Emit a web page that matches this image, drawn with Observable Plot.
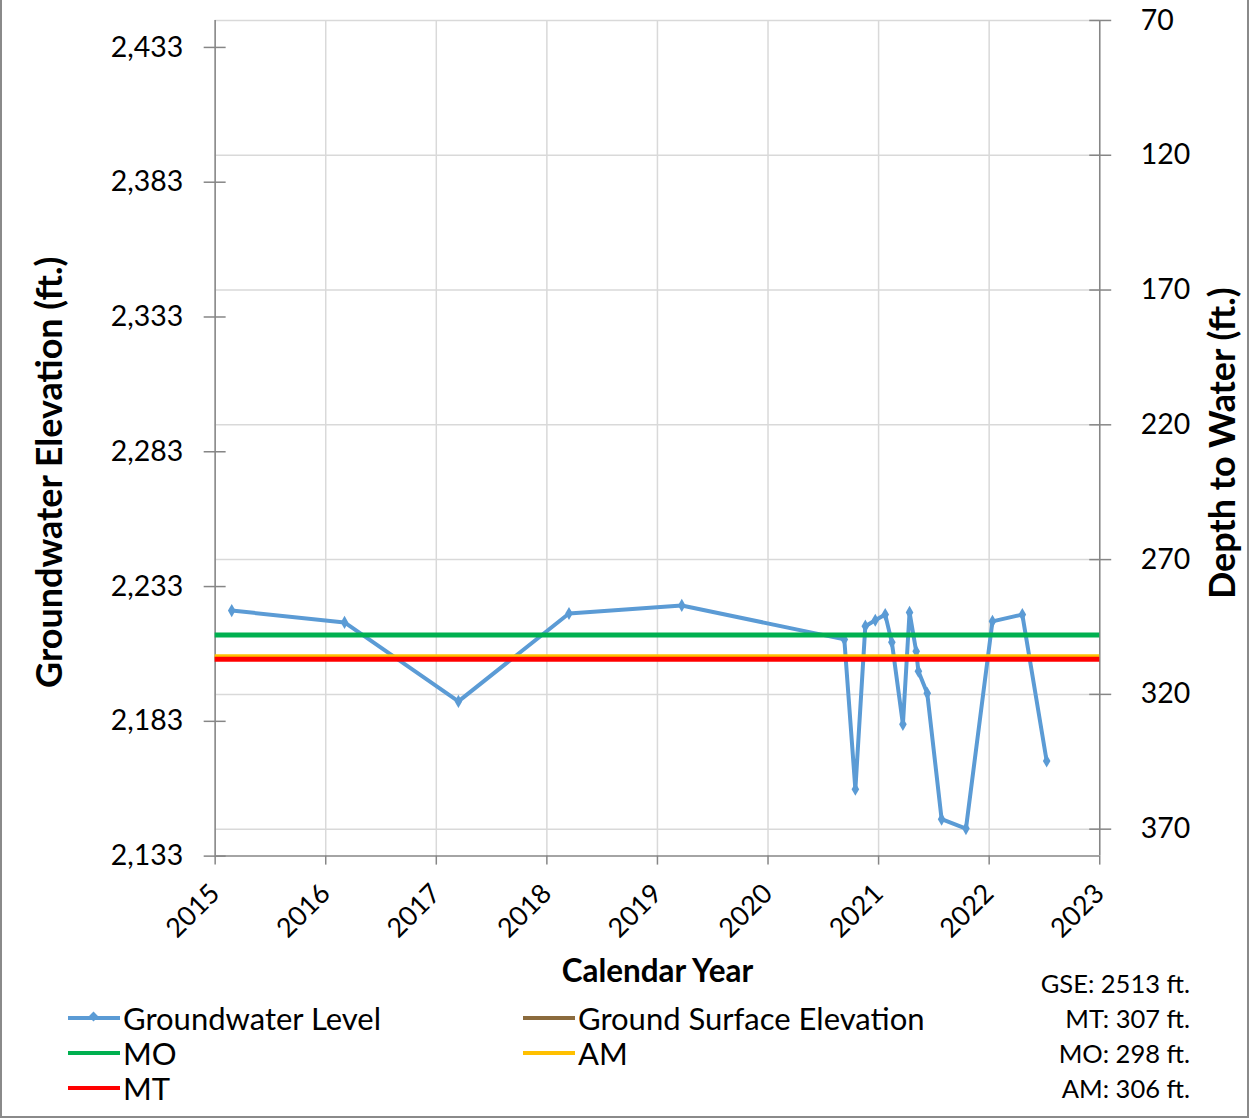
<!DOCTYPE html>
<html>
<head>
<meta charset="utf-8">
<script src="https://cdn.jsdelivr.net/npm/d3@7"></script>
<script src="https://cdn.jsdelivr.net/npm/@observablehq/plot@0.6"></script>
<style>
  html, body { margin: 0; padding: 0; background: #fff; }
  #wrap { position: relative; width: 1249px; height: 1118px; box-sizing: border-box;
          border-left: 2px solid #8a8a8a; border-right: 2px solid #8a8a8a; border-bottom: 2px solid #8a8a8a;
          font-family: Lato, "Open Sans", sans-serif; color: #000; overflow: hidden; }
  #chart { position: absolute; left: -2px; top: 0; }
  .leg { position: absolute; display: flex; align-items: center; font-size: 31px; line-height: 1; white-space: nowrap; }
  .leg .sw { position: relative; width: 52px; height: 4px; margin-right: 3px; }
  .leg .mk { position: absolute; left: 22px; top: -3px; width: 7px; height: 7px; transform: rotate(45deg); }
  #info { position: absolute; right: 57px; top: 966px; text-align: right; font-size: 25.5px; line-height: 35px; }
</style>
</head>
<body>
<div id="wrap">
  <div id="chart"></div>
  <div id="legend"></div>
  <div id="info"></div>
</div>
<script>
// ---- data ----
const gse = 2513;                       // ground surface elevation (ft)
const sampleYears = [2015.15, 2016.17, 2017.20, 2018.20, 2019.22, 2020.69, 2020.79, 2020.88, 2020.97, 2021.06, 2021.12,
                     2021.22, 2021.28, 2021.34, 2021.36, 2021.44, 2021.57, 2021.79, 2022.03, 2022.30, 2022.52];
const sampleElev  = [2224.1, 2219.7, 2190.4, 2223.0, 2226.0, 2213.4, 2157.8, 2218.3, 2220.5, 2222.6, 2212.3,
                     2181.9, 2223.4, 2209.0, 2201.6, 2193.4, 2146.7, 2143.2, 2220.1, 2222.6, 2168.3];
const thresholdNames  = ["MO", "AM", "MT"];
const thresholdDepths = [298, 306, 307];
const thresholdColors = ["#00b050", "#ffc000", "#ff0000"];
const yearTicks  = [2015, 2016, 2017, 2018, 2019, 2020, 2021, 2022, 2023];
const elevTicks  = [2133, 2183, 2233, 2283, 2333, 2383, 2433];
const depthTicks = [70, 120, 170, 220, 270, 320, 370];
const legendNames  = ["Groundwater Level", "Ground Surface Elevation", "MO", "AM", "MT"];
const legendColors = ["#5b9bd5", "#8b6b3d", "#00b050", "#ffc000", "#ff0000"];
const infoLines = ["GSE: 2513 ft.", "MT: 307 ft.", "MO: 298 ft.", "AM: 306 ft."];

const samples = sampleYears.map((t, i) => ({t, elev: sampleElev[i]}));
const thresholds = thresholdNames.map((n, i) => ({name: n, elev: gse - thresholdDepths[i], color: thresholdColors[i]}));
// draw order: AM under MT, MO
const drawOrder = ["AM", "MT", "MO"].map(n => thresholds.find(d => d.name === n));

const axisGray = "#868686";
const gridGray = "#d9d9d9";

const chart = Plot.plot({
  width: 1249,
  height: 1000,
  marginLeft: 215,
  marginRight: 148,
  marginTop: 20,
  marginBottom: 143,
  style: {fontFamily: "Lato, 'Open Sans', sans-serif", color: "#000", background: "transparent"},
  x: {type: "linear", domain: [2015, 2023]},
  y: {type: "linear", domain: [2133, 2443]},
  marks: [
    Plot.gridX(yearTicks, {stroke: gridGray, strokeOpacity: 1, strokeWidth: 1.5}),
    Plot.gridY(depthTicks.map(d => gse - d), {stroke: gridGray, strokeOpacity: 1, strokeWidth: 1.5}),
    Plot.ruleX([2015, 2023], {stroke: axisGray, strokeWidth: 1.5}),
    Plot.ruleY([2133], {stroke: axisGray, strokeWidth: 1.5}),
    // left axis
    Plot.axisY(elevTicks, {anchor: "left", tickSize: 22, dx: 11, tickPadding: 21, fontSize: 28.5,
      stroke: axisGray, strokeWidth: 1.5, label: null, tickFormat: d3.format(",")}),
    // right axis (depth to water)
    Plot.axisY(depthTicks.map(d => gse - d), {anchor: "right", tickSize: 22, dx: -11, tickPadding: 30, fontSize: 28.5,
      stroke: axisGray, strokeWidth: 1.5, label: null, tickFormat: d => String(gse - d)}),
    // bottom axis
    Plot.axisX(yearTicks, {anchor: "bottom", tickSize: 9, tickPadding: 24, tickRotate: -45, fontSize: 27,
      stroke: axisGray, strokeWidth: 1.5, label: null, tickFormat: d => String(d)}),
    // groundwater level
    Plot.line(samples, {x: "t", y: "elev", stroke: "#5b9bd5", strokeWidth: 4, strokeLinejoin: "round"}),
    Plot.dot(samples, {x: "t", y: "elev", symbol: "diamond", r: 4, fill: "#5b9bd5", stroke: "none"}),
    // thresholds
    Plot.ruleY(drawOrder, {y: "elev", stroke: "color", strokeWidth: 5}),
    // titles
    Plot.text(["Groundwater Elevation (ft.)"], {frameAnchor: "left", textAnchor: "middle", rotate: -90, dx: -165, dy: 34,
      fontSize: 36, fontWeight: "bold", fill: "#000"}),
    Plot.text(["Depth to Water (ft.)"], {frameAnchor: "right", textAnchor: "middle", rotate: -90, dx: 124, dy: 5,
      fontSize: 36, fontWeight: "bold", fill: "#000"}),
    Plot.text(["Calendar Year"], {frameAnchor: "bottom", dy: 116, lineAnchor: "middle",
      fontSize: 31.5, fontWeight: "bold", fill: "#000"})
  ]
});
chart.style.overflow = "visible";
document.getElementById("chart").appendChild(chart);

// ---- legend (HTML) ----
const legendPos = {
  "Groundwater Level": [66, 1018], "Ground Surface Elevation": [521, 1018],
  "MO": [66, 1053], "AM": [521, 1053], "MT": [66, 1088]
};
const legend = document.getElementById("legend");
legendNames.forEach((name, i) => {
  const [lx, ly] = legendPos[name];
  const item = document.createElement("div");
  item.className = "leg";
  item.style.left = lx + "px";
  item.style.top = (ly - 16) + "px";
  item.style.height = "32px";
  const sw = document.createElement("div");
  sw.className = "sw";
  sw.style.background = legendColors[i];
  if (name === "Groundwater Level") {
    const mk = document.createElement("div");
    mk.className = "mk";
    mk.style.background = legendColors[i];
    sw.appendChild(mk);
  }
  const tx = document.createElement("span");
  tx.textContent = name;
  item.appendChild(sw);
  item.appendChild(tx);
  legend.appendChild(item);
});

const info = document.getElementById("info");
infoLines.forEach(s => {
  const d = document.createElement("div");
  d.textContent = s;
  info.appendChild(d);
});
</script>
</body>
</html>
